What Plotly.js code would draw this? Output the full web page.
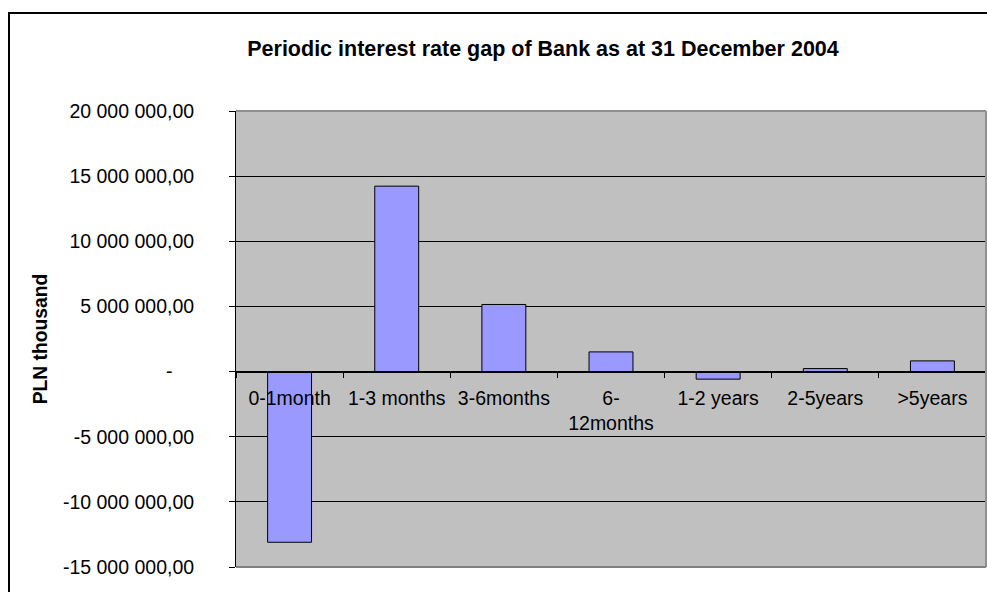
<!DOCTYPE html>
<html>
<head>
<meta charset="utf-8">
<script src="https://cdn.plot.ly/plotly-3.0.1.min.js"></script>
<style>
  html, body { margin: 0; padding: 0; background: #fff; }
  #wrap { position: relative; width: 987px; height: 592px; overflow: hidden; }
  #chart { position: absolute; left: 0; top: 0; width: 987px; height: 592px; }
  #frame { position: absolute; left: 8px; top: 12px; width: 1200px; height: 800px;
           border-left: 2px solid #000; border-top: 2px solid #000; pointer-events: none; }
</style>
</head>
<body>
<div id="wrap">
  <div id="chart"></div>
  <div id="frame"></div>
</div>
<script>
// Data
const categories = ["0-1month", "1-3 months", "3-6months", "6-<br>12months", "1-2 years", "2-5years", ">5years"];
const gapValues = [-13100000, 14230000, 5150000, 1510000, -580000, 230000, 820000];
const yTickVals = [-15000000, -10000000, -5000000, 0, 5000000, 10000000, 15000000, 20000000];
const yTickLabels = ["-15 000 000,00", "-10 000 000,00", "-5 000 000,00", "-\u00a0\u00a0\u00a0\u00a0", "5 000 000,00", "10 000 000,00", "15 000 000,00", "20 000 000,00"];
const yMin = -15000000, yMax = 20000000;

const FONT = "Arial, 'Liberation Sans', sans-serif";

const trace = {
  type: "bar",
  x: categories,
  y: gapValues,
  marker: { color: "#9999FF", line: { color: "#000000", width: 1 } },
  hoverinfo: "x+y"
};

const layout = {
  width: 987,
  height: 592,
  margin: { l: 236, r: 1, t: 111, b: 25 },
  paper_bgcolor: "#ffffff",
  plot_bgcolor: "#C0C0C0",
  showlegend: false,
  bargap: 0.59,
  font: { family: FONT, size: 19.5, color: "#000" },
  title: {
    text: "<b>Periodic interest rate gap of Bank as at 31 December 2004</b>",
    font: { family: FONT, size: 21.5, color: "#000" },
    xref: "container", yref: "container",
    x: 543 / 987, xanchor: "center",
    y: 1 - 48 / 592, yanchor: "middle"
  },
  xaxis: {
    type: "category",
    anchor: "free",
    position: (0 - yMin) / (yMax - yMin),
    showline: true, linecolor: "#000", linewidth: 1,
    ticks: "outside", tickson: "boundaries", ticklen: 5, tickcolor: "#000", tickwidth: 1,
    showgrid: false, zeroline: false,
    tickfont: { family: FONT, size: 19.5, color: "#000" },
    ticklabelstandoff: 9,
    fixedrange: true
  },
  yaxis: {
    range: [yMin, yMax],
    tickvals: yTickVals,
    ticktext: yTickLabels,
    showline: true, linecolor: "#000", linewidth: 1,
    ticks: "outside", ticklen: 6, tickcolor: "#000", tickwidth: 1,
    showgrid: true, gridcolor: "#000", gridwidth: 1,
    zeroline: true, zerolinecolor: "#000", zerolinewidth: 1,
    tickfont: { family: FONT, size: 19.5, color: "#000" },
    ticklabelstandoff: 31,
    automargin: true,
    title: { text: "<b>PLN thousand</b>", standoff: 10, font: { family: FONT, size: 19.3, color: "#000" } },
    fixedrange: true
  },
  shapes: [
    { type: "line", xref: "paper", yref: "paper", x0: 0, x1: 1, y0: 1, y1: 1, line: { color: "#909090", width: 2 } },
    { type: "line", xref: "paper", yref: "paper", x0: 1, x1: 1, y0: 0, y1: 1, line: { color: "#909090", width: 2 } },
    { type: "line", xref: "paper", yref: "paper", x0: 0, x1: 1, y0: 0, y1: 0, line: { color: "#808080", width: 2 } }
  ]
};

Plotly.newPlot("chart", [trace], layout, { displayModeBar: false, staticPlot: true });
</script>
</body>
</html>
